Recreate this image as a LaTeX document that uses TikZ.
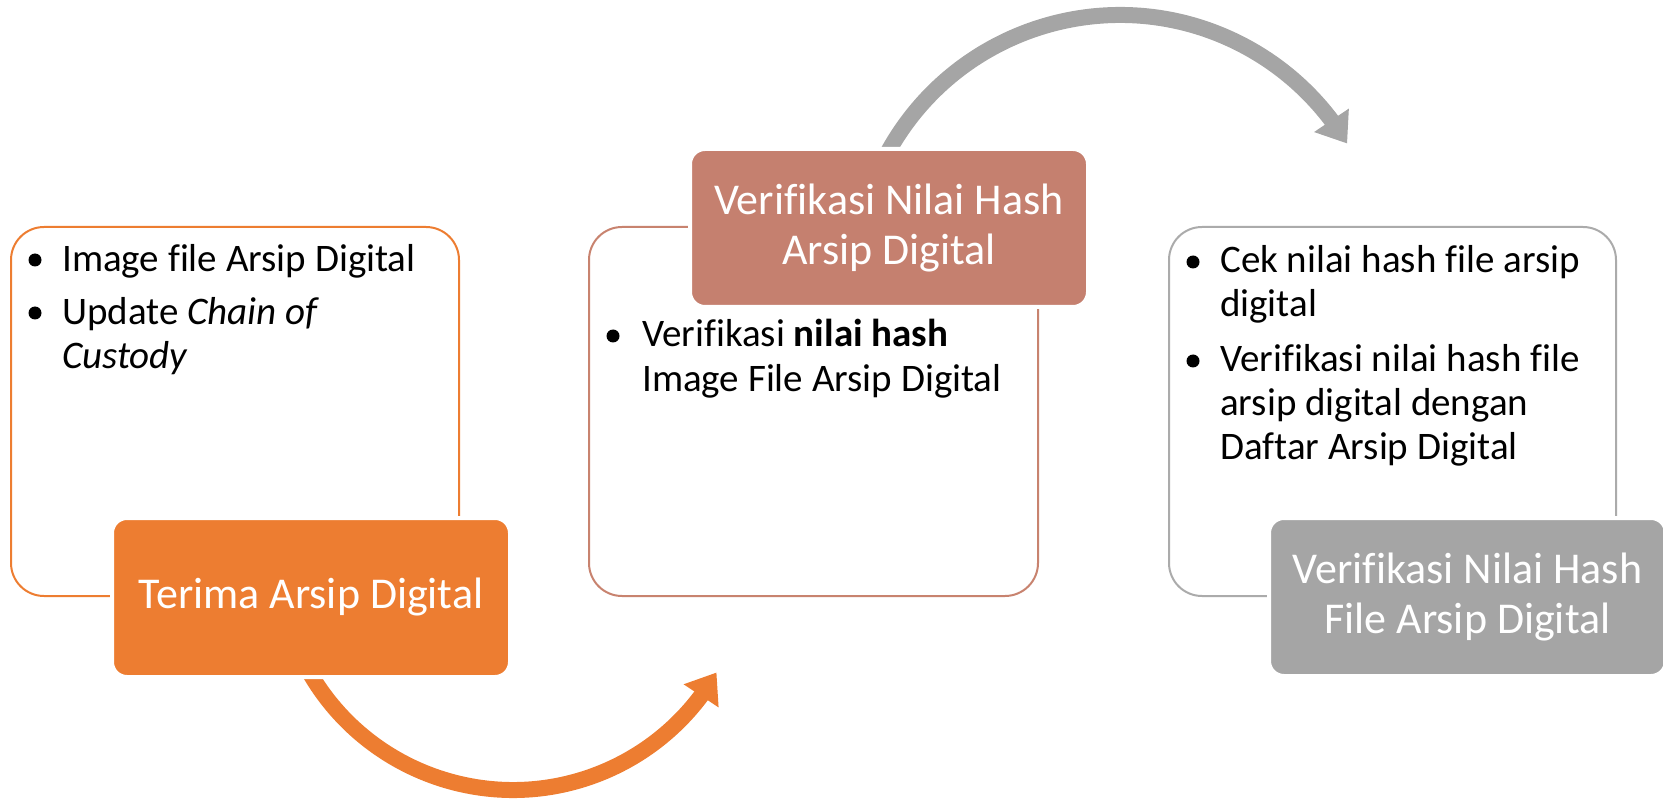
\documentclass[tikz,border=0pt]{standalone}
\usepackage{fontspec}
\setmainfont{Carlito}[Ligatures=NoCommon]
\usetikzlibrary{arrows.meta,bending,backgrounds}
\definecolor{orng}{HTML}{ED7D31}
\definecolor{brwn}{HTML}{C5806F}
\definecolor{brwnline}{HTML}{C8836F}
\definecolor{gry}{HTML}{A5A5A5}
\definecolor{gryline}{HTML}{ABABAB}
\begin{document}
\begin{tikzpicture}[x=1pt,y=1pt,
  outl/.style={rounded corners=33pt, line width=2pt, inner sep=0pt, anchor=north west},
  hdr/.style={rounded corners=15pt, draw=white, line width=4pt, text=white, align=center,
    font=\fontsize{44}{50}\selectfont, inner sep=0pt, anchor=north west},
  bul/.style={circle, fill=black, inner sep=0pt, minimum size=13pt},
  txt/.style={anchor=base west, inner sep=0pt, font=\fontsize{39}{44}\selectfont},
  arr/.style={line width=16pt, -{Triangle[length=28pt,width=40pt]}}
]
\useasboundingbox (0,0) rectangle (1663,-799);

% outlines
\node[outl, draw=orng, minimum width=448pt, minimum height=369pt] (o1) at (10,-226) {};
\node[outl, draw=brwnline, minimum width=449pt, minimum height=369pt] (o2) at (588,-226) {};
\node[outl, draw=gryline, minimum width=447pt, minimum height=369pt] (o3) at (1168,-226) {};

% header boxes
\node[hdr, fill=orng, minimum width=398pt, minimum height=159pt] (h1) at (110,-516) {Terima Arsip Digital};
\node[hdr, fill=brwn, minimum width=398pt, minimum height=158pt] (h2) at (688,-147) {Verifikasi Nilai Hash\\Arsip Digital};
\node[hdr, fill=gry, minimum width=397pt, minimum height=158pt] (h3) at (1267,-516) {Verifikasi Nilai Hash\\File Arsip Digital};

% left bullets
\node[bul] (b1) at (35,-260) {};
\node[txt] (t1) at (62,-272) {Image file Arsip Digital};
\node[bul] (b2) at (35,-313) {};
\node[txt] (t2) at (62,-325) {Update \textit{Chain of}};
\node[txt] (t3) at (62,-369) {\textit{Custody}};

% middle bullets
\node[bul] (b3) at (613,-336) {};
\node[txt] (t4) at (642,-347) {Verifikasi \textbf{nilai hash}};
\node[txt] (t5) at (642,-392) {Image File Arsip Digital};

% right bullets
\node[bul] (b4) at (1193,-262) {};
\node[txt] (t6) at (1220,-273) {Cek nilai hash file arsip};
\node[txt] (t7) at (1220,-317) {digital};
\node[bul] (b5) at (1193,-361) {};
\node[txt] (t8) at (1220,-372) {Verifikasi nilai hash file};
\node[txt] (t9) at (1220,-416) {arsip digital dengan};
\node[txt] (t10) at (1220,-460) {Daftar Arsip Digital};

% arrows
\coordinate (s1) at (300.0,-654.3);
\coordinate (s2) at (886.0,-155.6);
\begin{scope}[on background layer]
\draw[arr, orng] (s1) arc[start angle=205, end angle=330, radius=235];
\draw[arr, gry] (s2) arc[start angle=152, end angle=31, radius=265];
\end{scope}
\end{tikzpicture}
\end{document}
